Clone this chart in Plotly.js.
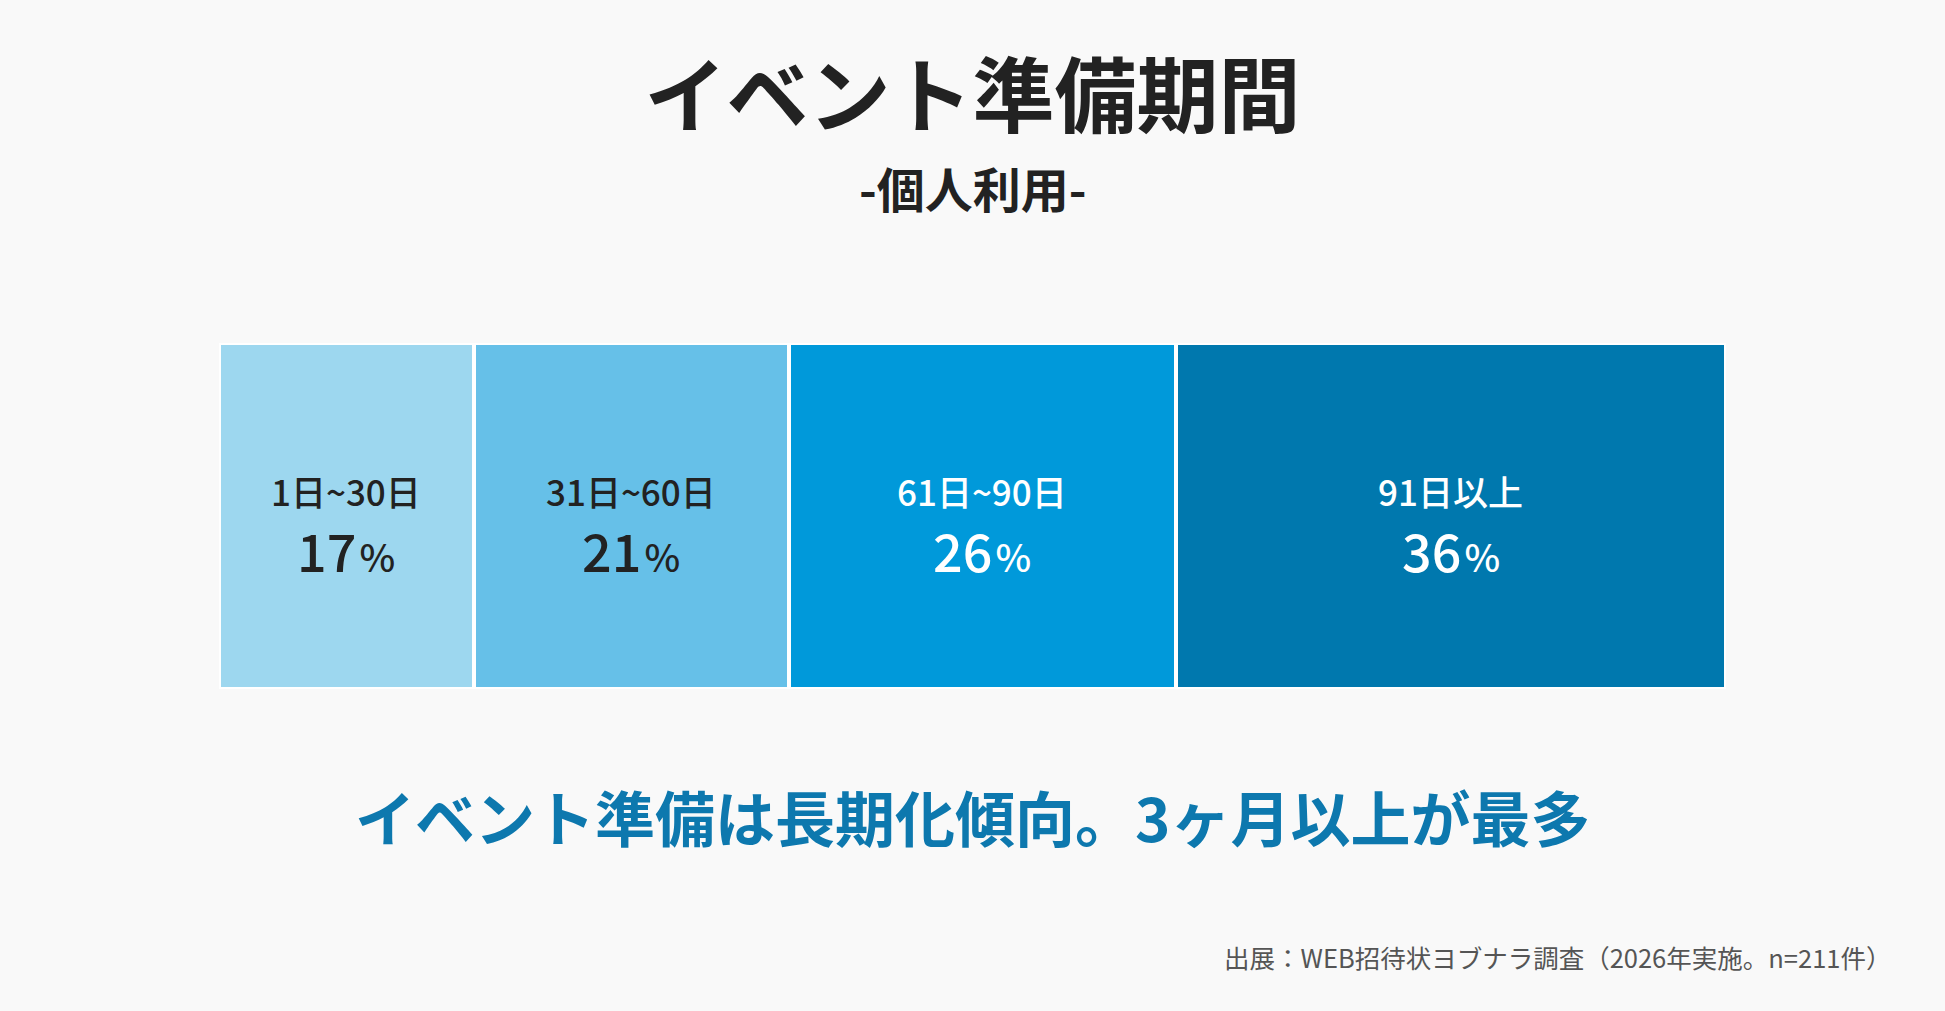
<!DOCTYPE html>
<html>
<head>
<meta charset="utf-8">
<script src="https://cdn.plot.ly/plotly-3.0.1.min.js"></script>
<style>
  html, body { margin: 0; padding: 0; background: #f9f9f9; }
  #chart { width: 1945px; height: 1011px; }
</style>
</head>
<body>
<div id="chart"></div>
<script>
// イベント準備期間（個人利用）
var categories = ['1日~30日', '31日~60日', '61日~90日', '91日以上'];
// bar widths (share of answers, %)
var shares = [16.9, 20.9, 25.7, 36.5];
// percentages as printed in the bars
var pctLabels = [17, 21, 26, 36];
var colors = ['#9dd7ef', '#66c0e8', '#0099da', '#0078ae'];
var textColors = ['#222222', '#222222', '#ffffff', '#ffffff'];

var FONT = '"Noto Sans CJK JP", "Noto Sans", sans-serif';

var traces = [];
var annotations = [];
var cumul = 0;

for (var i = 0; i < categories.length; i++)
{
	traces.push({
		type: 'bar',
		orientation: 'h',
		name: categories[i],
		x: [shares[i]],
		y: ['all'],
		marker: { color: colors[i], line: { color: '#ffffff', width: 4 } },
		hoverinfo: 'skip'
	});

	var mid = cumul + shares[i] / 2;
	cumul = cumul + shares[i];

	// nom de la tranche
	annotations.push({
		xref: 'x', yref: 'y', x: mid, y: 'all',
		text: categories[i],
		showarrow: false,
		yshift: 26,
		font: { family: FONT, size: 35, color: textColors[i], weight: 500 }
	});
	// pourcentage
	annotations.push({
		xref: 'x', yref: 'y', x: mid, y: 'all',
		text: pctLabels[i] + '<span style="font-size:14px"> </span><span style="font-size:38px">%</span>',
		showarrow: false,
		yshift: -33,
		font: { family: FONT, size: 52, color: textColors[i], weight: 500 }
	});
}

annotations.push({
	xref: 'paper', yref: 'paper', x: 0.5, y: 1.45,
	xanchor: 'center', yanchor: 'middle',
	text: '-個人利用-',
	showarrow: false,
	font: { family: FONT, size: 48, color: '#222222', weight: 700 }
});

annotations.push({
	xref: 'paper', yref: 'paper', x: 0.5, y: -0.366,
	xanchor: 'center', yanchor: 'middle',
	text: 'イベント準備は長期化傾向。3ヶ月以上が最多',
	showarrow: false,
	font: { family: FONT, size: 60, color: '#0d78ae', weight: 700 }
});

annotations.push({
	xref: 'paper', yref: 'paper', x: 1.111, y: -0.772,
	xanchor: 'right', yanchor: 'middle',
	text: '出展：WEB招待状ヨブナラ調査（2026年実施。n=211件）',
	showarrow: false,
	font: { family: FONT, size: 25.5, color: '#555555' }
});

var layout = {
	width: 1945,
	height: 1011,
	paper_bgcolor: '#f9f9f9',
	plot_bgcolor: '#f9f9f9',
	margin: { l: 219, r: 219, t: 343, b: 322, pad: 0 },
	barmode: 'stack',
	bargap: 0,
	showlegend: false,
	title: {
		text: 'イベント準備期間',
		x: 0.5, xanchor: 'center',
		y: 1 - 97 / 1011, yanchor: 'middle', yref: 'container',
		font: { family: FONT, size: 82, color: '#222222', weight: 700 }
	},
	xaxis: { range: [0, 100], visible: false, fixedrange: true },
	yaxis: { range: [-0.5, 0.5], visible: false, fixedrange: true },
	annotations: annotations
};

Plotly.newPlot('chart', traces, layout, { staticPlot: true, displayModeBar: false });
</script>
</body>
</html>
